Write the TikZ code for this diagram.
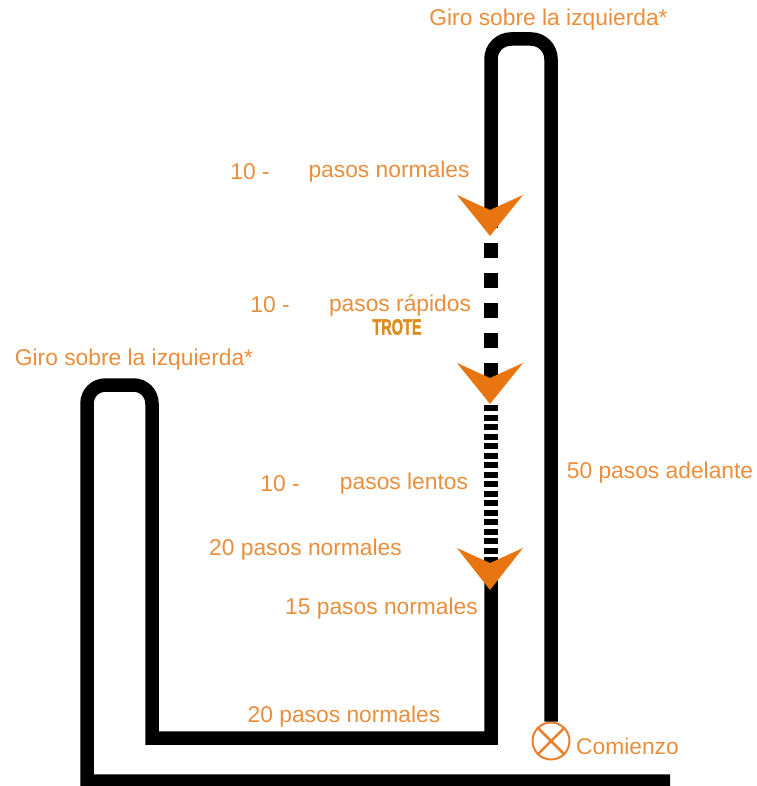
\documentclass[tikz,border=0pt]{standalone}
\usepackage{fontspec}
\setmainfont{Liberation Sans}
\newfontface\trotefont[FakeBold=2]{Liberation Sans Bold}
\usepackage{graphicx}
\definecolor{txtor}{RGB}{233,142,60}
\definecolor{arrowor}{RGB}{232,117,16}
\definecolor{troteor}{RGB}{222,140,30}
\definecolor{circor}{RGB}{232,128,48}
\begin{document}
\begin{tikzpicture}[x=1pt,y=-1pt,
  lbl/.style={text=txtor,font=\fontsize{22.8}{26}\selectfont,inner sep=0pt},
  track/.style={line width=13.5pt,black,line join=miter,line cap=butt},
  arrowhd/.style={fill=arrowor,draw=none}]
\useasboundingbox (0,0) rectangle (756,786);

% start marker
\node[circle,draw=circor,line width=2pt,minimum size=37pt,inner sep=0pt] (start) at (551,741) {};
\draw[circor,line width=2.5pt] (start.north west) -- (start.south east)
  (start.north east) -- (start.south west);

% right U (solid part)
\draw[track] (491,228) -- (491,59)
  .. controls (491,48) and (500,39) .. (511,39) -- (531,39)
  .. controls (542,39) and (551,48) .. (551,59) -- (start.north);

% dashed parts
\draw[track,dash pattern=on 15pt off 15pt] (491,243) -- (491,380);
\draw[track,dash pattern=on 6pt off 3.5pt] (491,405) -- (491,565);

% lower track
\draw[track] (491,575) -- (491,738) -- (152,738) -- (152,404)
  .. controls (152,393) and (144,385) .. (133,385) -- (106,385)
  .. controls (95,385) and (87,393) .. (87,404) -- (87,781) -- (670,781);

% arrowheads
\fill[arrowhd] (457,195) -- (490,210) -- (523,195) -- (490,236) -- cycle;
\fill[arrowhd] (457,363) -- (490,378) -- (523,363) -- (490,404) -- cycle;
\fill[arrowhd] (457,548) -- (490,563) -- (523,548) -- (490,590) -- cycle;

% labels
\node[lbl] (giroA) at (548.5,20) {Giro sobre la izquierda*};
\node[lbl] (n1) at (250,172) {10 -};
\node[lbl] (p1) at (389,172) {pasos normales};
\node[lbl] (n2) at (270,305) {10 -};
\node[lbl] (p2) at (400,305) {pasos rápidos};
\node[text=troteor,inner sep=0pt] (trote) at (397,327)
  {\scalebox{0.66}[1]{\fontsize{22}{24}\trotefont TROTE}};
\node[lbl] (giroB) at (134,360) {Giro sobre la izquierda*};
\node[lbl] (n3) at (280,484) {10 -};
\node[lbl] (p3) at (404,484) {pasos lentos};
\node[lbl] (fifty) at (660,473) {50 pasos adelante};
\node[lbl] (twentyA) at (305.5,550) {20 pasos normales};
\node[lbl] (fifteen) at (381.5,609) {15 pasos normales};
\node[lbl] (twentyB) at (344,717) {20 pasos normales};
\node[lbl] (comienzo) at (627.5,746) {Comienzo};
\end{tikzpicture}
\end{document}
